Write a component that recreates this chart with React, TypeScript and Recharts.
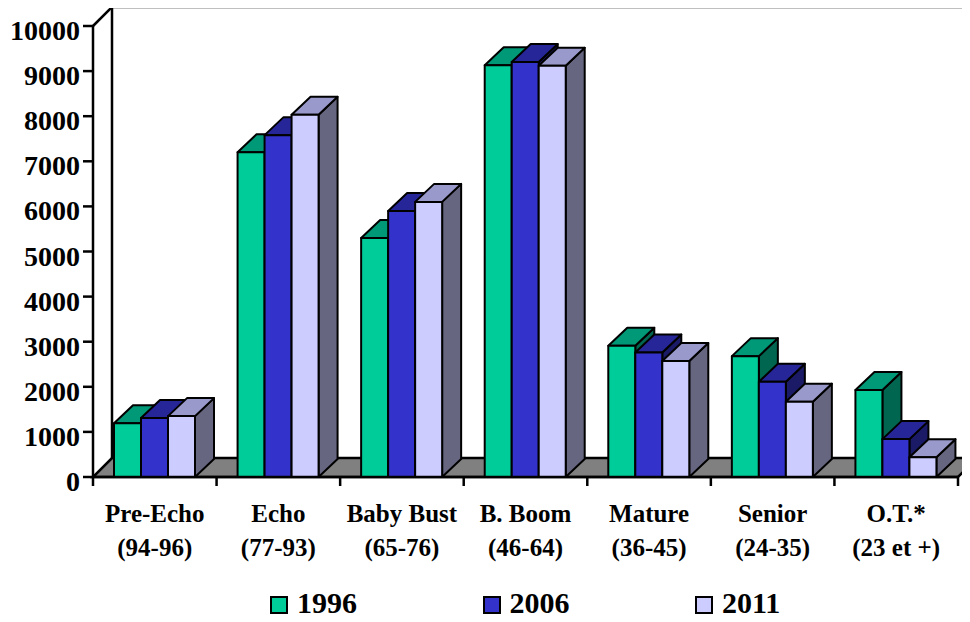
import React from 'react';
import { BarChart, Bar, XAxis, YAxis, ReferenceArea, Legend } from 'recharts';

const categories = ['Pre-Echo', 'Echo', 'Baby Bust', 'B. Boom', 'Mature', 'Senior', 'O.T.*'];
const ageRanges = ['(94-96)', '(77-93)', '(65-76)', '(46-64)', '(36-45)', '(24-35)', '(23 et +)'];
const values1996 = [1190, 7200, 5300, 9130, 2910, 2680, 1930];
const values2006 = [1310, 7580, 5900, 9200, 2760, 2110, 840];
const values2011 = [1350, 8030, 6100, 9120, 2570, 1670, 440];
const yTicks = [0, 1000, 2000, 3000, 4000, 5000, 6000, 7000, 8000, 9000, 10000];

const data = categories.map((name, i) => ({
    name,
    range: ageRanges[i],
    y1996: values1996[i],
    y2006: values2006[i],
    y2011: values2011[i],
}));

// front / top / side shades of each series
const series = [
    { key: 'y1996', name: '1996', front: '#00CC99', top: '#009977', side: '#006650' },
    { key: 'y2006', name: '2006', front: '#3333CC', top: '#262699', side: '#1A1A66' },
    { key: 'y2011', name: '2011', front: '#CCCCFF', top: '#9999CC', side: '#666680' },
];

const DX = 19;
const DY = 18;
const FONT = '"Liberation Serif", "Times New Roman", serif';

const Box = (props: any) => {
    const { x, y, width, height, c } = props;
    if (height == null || width == null) return null;
    const r = x + width;
    const b = y + height;
    return (
        <g stroke="#000" strokeWidth={2} strokeLinejoin="round">
            <polygon points={`${r},${y} ${r + DX},${y - DY} ${r + DX},${b - DY} ${r},${b}`} fill={c.side} />
            <polygon points={`${x},${y} ${x + DX},${y - DY} ${r + DX},${y - DY} ${r},${y}`} fill={c.top} />
            <rect x={x} y={y} width={width} height={height} fill={c.front} />
        </g>
    );
};

// floor and back wall drawn from the plot rectangle
const Walls = (props: any) => {
    const { x, y, width, height } = props;
    const b = y + height;
    const r = x + width;
    return (
        <g stroke="#000" strokeWidth={2.5} fill="none">
            <polygon points={`${x},${b} ${r},${b} ${r + 19},${b - 19} ${x + 19},${b - 19}`} fill="#808080" />
            <line x1={x + 19} y1={y - 19} x2={x + 19} y2={b - 19} />
            <line x1={x + 19} y1={y - 19} x2={r + 19} y2={y - 19} />
            <line x1={x} y1={y} x2={x + 19} y2={y - 19} />
        </g>
    );
};

const XTick = (props: any) => {
    const { x, y, payload, index } = props;
    const half = payload.offset || 61.8;
    const row = data[index] || data.find((d) => d.name === payload.value);
    return (
        <g>
            <line x1={x - half} y1={y} x2={x - half} y2={y + 9} stroke="#000" strokeWidth={2.5} />
            {index === categories.length - 1 && (
                <line x1={x + half} y1={y} x2={x + half} y2={y + 9} stroke="#000" strokeWidth={2.5} />
            )}
            <text x={x} y={y + 44.5} textAnchor="middle" fontFamily={FONT} fontWeight="bold" fontSize={25} fill="#000">
                {payload.value}
            </text>
            <text x={x} y={y + 78.5} textAnchor="middle" fontFamily={FONT} fontWeight="bold" fontSize={25} fill="#000">
                {row ? row.range : ''}
            </text>
        </g>
    );
};

const YTick = (props: any) => {
    const { x, y, payload } = props;
    return (
        <text x={x} y={y + 14} textAnchor="end" fontFamily={FONT} fontWeight="bold" fontSize={28} fill="#000">
            {payload.value}
        </text>
    );
};

const LegendContent = (props: any) => {
    const items = props.payload || [];
    return (
        <div style={{ display: 'flex', fontFamily: FONT, fontWeight: 'bold', fontSize: 30 }}>
            {items.map((it: any) => {
                const s = series.find((q) => q.name === it.value) || series[0];
                return (
                    <div key={it.value} style={{ width: 212.5, display: 'flex', alignItems: 'center' }}>
                        <span
                            style={{
                                width: 18,
                                height: 18,
                                boxSizing: 'border-box',
                                border: '2px solid #000',
                                background: s.front,
                                marginRight: 9,
                                marginTop: 3,
                            }}
                        />
                        <span style={{ color: '#000' }}>{it.value}</span>
                    </div>
                );
            })}
        </div>
    );
};

export default function App() {
    return (
        <div style={{ margin: -8, width: 970, height: 622, background: '#fff' }}>
            <BarChart
                width={970}
                height={622}
                data={data}
                margin={{ top: 26, right: 12, bottom: 55, left: 0 }}
                barGap={0}
                barSize={27}
            >
                <ReferenceArea y1={0} y2={10000} shape={<Walls />} ifOverflow="visible" />
                <XAxis
                    dataKey="name"
                    interval={0}
                    height={90}
                    tickSize={0}
                    tickMargin={0}
                    tickLine={false}
                    axisLine={{ stroke: '#000', strokeWidth: 2.5 }}
                    tick={<XTick />}
                />
                <YAxis
                    domain={[0, 10000]}
                    ticks={yTicks}
                    width={93}
                    tickSize={10}
                    tickMargin={3}
                    axisLine={{ stroke: '#000', strokeWidth: 2.5 }}
                    tickLine={{ stroke: '#000', strokeWidth: 2.5 }}
                    tick={<YTick />}
                    allowDataOverflow
                />
                <Legend
                    layout="horizontal"
                    verticalAlign="middle"
                    align="center"
                    content={<LegendContent />}
                    wrapperStyle={{ left: 270, top: 586, width: 700 }}
                />
                {series.map((s) => (
                    <Bar
                        key={s.key}
                        dataKey={s.key}
                        name={s.name}
                        fill={s.front}
                        isAnimationActive={false}
                        shape={(p: any) => <Box {...p} c={s} />}
                    />
                ))}
            </BarChart>
        </div>
    );
}
